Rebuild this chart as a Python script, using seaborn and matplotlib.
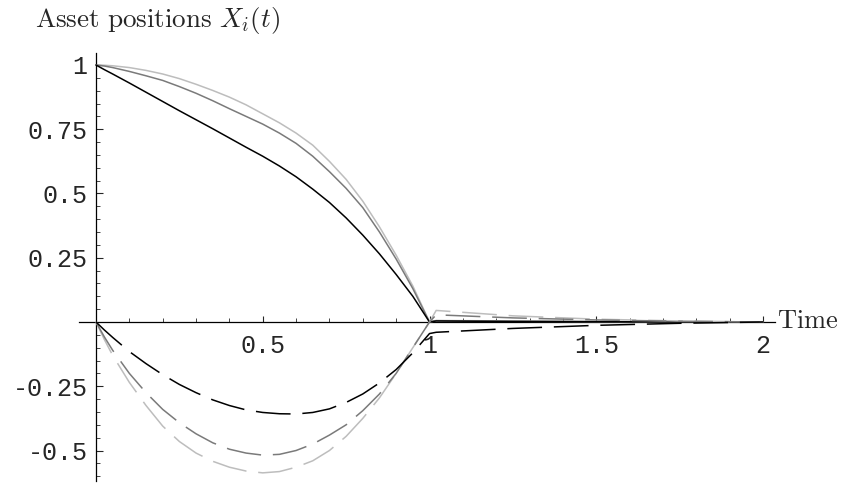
import numpy as np
import pandas as pd
import matplotlib
matplotlib.use("Agg")
import matplotlib.pyplot as plt
import seaborn as sns
from matplotlib.ticker import FixedLocator, FixedFormatter

# ---- data ----
t = [0.0, 0.025, 0.05, 0.1, 0.15, 0.2, 0.25, 0.3, 0.35, 0.4, 0.45, 0.5, 0.55, 0.6,
     0.65, 0.7, 0.75, 0.8, 0.85, 0.9, 0.95, 1.0,
     1.02, 1.25, 1.5, 1.75, 2.0]

solid_black = [1.0, 0.982, 0.965, 0.93, 0.894, 0.858, 0.822, 0.787, 0.752, 0.716, 0.68, 0.645,
               0.607, 0.565, 0.517, 0.465, 0.405, 0.338, 0.265, 0.185, 0.10, 0.0,
               0.004, 0.002, 0.001, 0.0005, 0.0]
solid_dark = [1.0, 0.996, 0.99, 0.975, 0.958, 0.94, 0.916, 0.89, 0.861, 0.83, 0.80, 0.77,
              0.735, 0.695, 0.645, 0.585, 0.52, 0.445, 0.35, 0.245, 0.13, 0.0,
              0.005, 0.003, 0.0015, 0.0007, 0.0]
solid_light = [1.0, 0.999, 0.997, 0.99, 0.979, 0.965, 0.947, 0.925, 0.901, 0.875, 0.845, 0.81,
               0.775, 0.735, 0.688, 0.625, 0.555, 0.47, 0.37, 0.26, 0.14, 0.0,
               0.006, 0.004, 0.002, 0.001, 0.0]

dash_black = [0.0, -0.031, -0.06, -0.115, -0.162, -0.205, -0.243, -0.275, -0.303, -0.325, -0.342,
              -0.352, -0.357, -0.358, -0.352, -0.338, -0.313, -0.28, -0.237, -0.185, -0.12, -0.045,
              -0.040, -0.025, -0.013, -0.005, 0.0]
dash_dark = [0.0, -0.058, -0.11, -0.2, -0.275, -0.34, -0.392, -0.435, -0.47, -0.495, -0.51,
             -0.518, -0.515, -0.5, -0.475, -0.44, -0.40, -0.345, -0.28, -0.2, -0.1, 0.0,
             0.028, 0.016, 0.008, 0.003, 0.0]
dash_light = [0.0, -0.068, -0.13, -0.235, -0.325, -0.405, -0.465, -0.51, -0.542, -0.565, -0.58,
              -0.587, -0.582, -0.565, -0.54, -0.5, -0.445, -0.375, -0.295, -0.2, -0.1, 0.0,
              0.045, 0.024, 0.011, 0.004, 0.0]

x_major = [0.5, 1.0, 1.5, 2.0]
x_labels = ["0.5", "1", "1.5", "2"]
y_major = [-0.5, -0.25, 0.25, 0.5, 0.75, 1.0]
y_labels = ["-0.5", "-0.25", "0.25", "0.5", "0.75", "1"]

title_text = r"$\mathrm{Asset\ positions}\ X_i(t)$"
xlabel_text = r"$\mathrm{Time}$"

# ---- styling ----
sns.set_style("white")
plt.rcParams["mathtext.fontset"] = "cm"
plt.rcParams["axes.unicode_minus"] = False
plt.rcParams["lines.scale_dashes"] = False

W, H = 841, 484
fig = plt.figure(figsize=(W / 100, H / 100), dpi=100)

xmin, xmax = -0.05, 2.036
ymin, ymax = -0.62, 1.047
sx, sy = 333.5, 257.0
x0px, y0px = 96.0, 322.0
left_px = x0px + xmin * sx
right_px = x0px + xmax * sx
top_px = y0px - ymax * sy
bot_px = y0px - ymin * sy
ax = fig.add_axes([left_px / W, 1 - bot_px / H, (right_px - left_px) / W, (bot_px - top_px) / H])

BLACK, DARK, LIGHT = "#000000", "#7a7a7a", "#bdbdbd"
dash = (0, (25, 8.5))
lw = 1.1

series = [
    (solid_light, LIGHT, "-"),
    (solid_dark, DARK, "-"),
    (solid_black, BLACK, "-"),
    (dash_light, LIGHT, dash),
    (dash_dark, DARK, dash),
    (dash_black, BLACK, dash),
]
for vals, col, ls in series:
    df = pd.DataFrame({"t": t, "v": vals})
    sns.lineplot(data=df, x="t", y="v", color=col, linestyle=ls, linewidth=lw,
                 ax=ax, sort=True, estimator=None, zorder=3)

ax.set_xlim(xmin, xmax)
ax.set_ylim(ymin, ymax)
ax.set_xlabel("")
ax.set_ylabel("")

for s in ["top", "right"]:
    ax.spines[s].set_visible(False)
ax.spines["left"].set_position(("data", 0))
ax.spines["bottom"].set_position(("data", 0))
for s in ["left", "bottom"]:
    ax.spines[s].set_color("black")
    ax.spines[s].set_linewidth(0.9)
    ax.spines[s].set_zorder(2)

ax.xaxis.set_major_locator(FixedLocator(x_major))
ax.xaxis.set_major_formatter(FixedFormatter(x_labels))
ax.xaxis.set_minor_locator(FixedLocator([i / 10 for i in range(1, 21)]))
ax.yaxis.set_major_locator(FixedLocator(y_major))
ax.yaxis.set_major_formatter(FixedFormatter(y_labels))
ax.yaxis.set_minor_locator(FixedLocator([i / 20 for i in range(-12, 21) if i != 0]))

mono = "Liberation Mono"
ax.tick_params(axis="x", which="major", direction="in", length=4, width=0.8, pad=9,
               labelsize=18, bottom=True)
ax.tick_params(axis="x", which="minor", direction="in", length=3, width=0.6, bottom=True)
ax.tick_params(axis="y", which="major", direction="in", length=5, width=0.8, pad=6,
               labelsize=18, left=True)
ax.tick_params(axis="y", which="minor", direction="in", length=3, width=0.6, left=True)
for lab in ax.get_xticklabels() + ax.get_yticklabels():
    lab.set_fontfamily(mono)

fig.text(35 / W, 1 - 20 / H, title_text, fontsize=19.5, ha="left", va="center")
fig.text(777 / W, 1 - 321 / H, xlabel_text, fontsize=19, ha="left", va="center")

fig.savefig("out.png", dpi=100)
